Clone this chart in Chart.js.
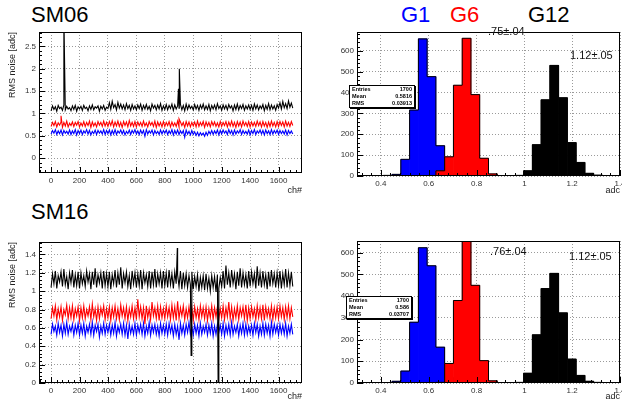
<!DOCTYPE html>
<html>
<head>
<meta charset="utf-8">
<script src="https://cdn.jsdelivr.net/npm/chart.js@4.4.0/dist/chart.umd.min.js"></script>
<style>
  html, body { margin: 0; padding: 0; background: #fff; overflow: hidden; }
  body { width: 622px; height: 407px; position: relative; font-family: "Liberation Sans", Arial, sans-serif; }
  canvas { position: absolute; }
  .lbl { position: absolute; white-space: nowrap; }
  .big { font-size: 22px; line-height: 22px; }
  .note { font-size: 11px; line-height: 11px; color: #111; }
  .stats { position: absolute; background: #fff; border: 1px solid #000; box-shadow: 1px 1px 0 #000;
           font-size: 5.5px; font-weight: bold; line-height: 7px; box-sizing: border-box; padding: 0 2px; }
  .stats div { display: flex; justify-content: space-between; }
</style>
</head>
<body>
<div class="lbl big" style="left:31px;top:4px">SM06</div>
<div class="lbl big" style="left:31px;top:201px">SM16</div>
<div class="lbl big" style="left:401px;top:4px;color:#0000ff">G1</div>
<div class="lbl big" style="left:450px;top:4px;color:#ff0000">G6</div>
<div class="lbl big" style="left:528px;top:4px;color:#000">G12</div>

<canvas id="sm06Noise" width="310" height="180" style="left:0;top:20px"></canvas>
<canvas id="sm06Hist" width="330" height="180" style="left:310px;top:20px"></canvas>
<canvas id="sm16Noise" width="310" height="177" style="left:0;top:230px"></canvas>
<canvas id="sm16Hist" width="330" height="177" style="left:310px;top:230px"></canvas>

<div class="lbl note" style="left:488px;top:26px">.75±.04</div>
<div class="lbl note" style="left:570px;top:50px">1.12±.05</div>
<div class="lbl note" style="left:490px;top:246px">.76±.04</div>
<div class="lbl note" style="left:569px;top:251px">1.12±.05</div>

<div class="stats" style="left:349px;top:85px;width:66px;height:23px">
  <div><span>Entries</span><span>1700</span></div>
  <div><span>Mean</span><span>0.5816</span></div>
  <div><span>RMS</span><span>0.03913</span></div>
</div>
<div class="stats" style="left:346px;top:296px;width:66px;height:23px">
  <div><span>Entries</span><span>1700</span></div>
  <div><span>Mean</span><span>0.586</span></div>
  <div><span>RMS</span><span>0.03707</span></div>
</div>

<script>
// RMS noise is listed for every 10th channel (0, 10, ... 1700)
const chStep = 10;

// SM06 pedestal RMS per gain
const sm06G1 = [
  0.54,0.62,0.56,0.64,0.53,0.61,0.55,0.63,0.52,0.62,0.56,0.60,0.54,0.63,0.53,0.61,0.55,0.64,0.52,0.62,
  0.55,0.63,0.53,0.61,0.56,0.64,0.54,0.62,0.52,0.60,0.55,0.63,0.53,0.62,0.56,0.61,0.54,0.64,0.53,0.62,
  0.55,0.63,0.52,0.62,0.54,0.64,0.53,0.61,0.56,0.63,0.54,0.62,0.52,0.60,0.55,0.63,0.53,0.62,0.56,0.64,
  0.54,0.61,0.53,0.63,0.55,0.62,0.49,0.64,0.54,0.61,0.56,0.63,0.52,0.62,0.55,0.60,0.53,0.63,0.54,0.62,
  0.56,0.63,0.53,0.61,0.55,0.64,0.52,0.62,0.54,0.63,0.53,0.61,0.55,0.62,0.47,0.63,0.54,0.60,0.52,0.62,
  0.53,0.59,0.51,0.58,0.50,0.57,0.52,0.56,0.49,0.58,0.51,0.60,0.54,0.62,0.53,0.61,0.55,0.63,0.52,0.62,
  0.54,0.63,0.56,0.61,0.53,0.64,0.55,0.62,0.52,0.63,0.54,0.61,0.56,0.64,0.53,0.62,0.55,0.60,0.54,0.63,
  0.52,0.62,0.55,0.64,0.53,0.61,0.56,0.63,0.54,0.62,0.52,0.63,0.55,0.61,0.53,0.64,0.54,0.62,0.56,0.63,
  0.53,0.62,0.55,0.61,0.54,0.63,0.52,0.62,0.55,0.61,0.54
];
const sm06G6 = [
  0.71,0.80,0.73,0.82,0.70,0.79,0.74,0.81,0.69,0.80,0.72,0.83,0.70,0.78,0.73,0.81,0.71,0.80,0.74,0.82,
  0.70,0.79,0.72,0.82,0.71,0.80,0.73,0.83,0.69,0.81,0.72,0.79,0.70,0.82,0.74,0.80,0.71,0.83,0.72,0.80,
  0.71,0.82,0.73,0.84,0.70,0.81,0.72,0.83,0.71,0.80,0.69,0.82,0.73,0.81,0.70,0.84,0.72,0.80,0.71,0.82,
  0.70,0.81,0.73,0.80,0.71,0.83,0.72,0.79,0.70,0.82,0.74,0.80,0.71,0.83,0.69,0.81,0.72,0.80,0.70,0.82,
  0.71,0.80,0.73,0.82,0.70,0.81,0.72,0.79,0.71,0.83,0.70,0.81,0.73,0.80,0.69,0.82,0.72,0.81,0.70,0.80,
  0.72,0.81,0.70,0.83,0.71,0.80,0.73,0.82,0.69,0.81,0.72,0.80,0.70,0.82,0.73,0.81,0.71,0.79,0.70,0.82,
  0.71,0.80,0.73,0.82,0.70,0.81,0.72,0.83,0.71,0.80,0.69,0.82,0.72,0.81,0.70,0.83,0.73,0.80,0.71,0.82,
  0.70,0.81,0.72,0.80,0.71,0.83,0.73,0.81,0.70,0.82,0.72,0.80,0.69,0.81,0.71,0.83,0.72,0.80,0.70,0.82,
  0.71,0.82,0.73,0.81,0.70,0.83,0.72,0.80,0.71,0.82,0.73
];
const sm06G12 = [
  1.06,1.17,1.09,1.15,1.05,1.18,1.11,1.14,1.07,1.19,1.08,1.16,1.10,1.13,1.06,1.17,1.09,1.18,1.05,1.15,
  1.10,1.16,1.07,1.18,1.11,1.14,1.06,1.17,1.09,1.19,1.08,1.15,1.12,1.17,1.05,1.16,1.10,1.18,1.07,1.14,
  1.11,1.24,1.09,1.27,1.13,1.20,1.08,1.25,1.12,1.21,1.10,1.19,1.08,1.22,1.11,1.18,1.07,1.20,1.10,1.17,
  1.08,1.19,1.11,1.21,1.07,1.18,1.10,1.20,1.09,1.16,1.06,1.21,1.12,1.18,1.08,1.19,1.10,1.22,1.07,1.17,
  1.09,1.20,1.08,1.18,1.11,1.21,1.07,1.19,1.10,1.17,1.12,1.20,1.08,1.18,1.06,1.21,1.09,1.19,1.11,1.16,
  1.08,1.20,1.10,1.18,1.07,1.19,1.11,1.21,1.08,1.17,1.09,1.20,1.06,1.18,1.10,1.19,1.08,1.22,1.11,1.17,
  1.07,1.19,1.10,1.18,1.08,1.20,1.12,1.17,1.06,1.19,1.09,1.21,1.08,1.18,1.11,1.20,1.07,1.17,1.10,1.19,
  1.09,1.18,1.07,1.21,1.10,1.19,1.08,1.17,1.11,1.20,1.06,1.18,1.09,1.22,1.08,1.19,1.10,1.17,1.07,1.20,
  1.12,1.24,1.10,1.27,1.13,1.22,1.11,1.28,1.14,1.23,1.12
];
// single noisy channels
const sm06G6SpikeCh = [70, 900];
const sm06G6SpikeVal = [0.95, 0.88];
const sm06G12SpikeCh = [90, 896, 902];
const sm06G12SpikeVal = [3.2, 1.55, 2.0];

// SM16 pedestal RMS per gain
const sm16G1 = [
  0.53,0.64,0.56,0.62,0.52,0.65,0.55,0.63,0.51,0.64,0.54,0.66,0.53,0.62,0.56,0.64,0.52,0.63,0.55,0.65,
  0.52,0.63,0.54,0.65,0.51,0.62,0.55,0.64,0.53,0.66,0.52,0.63,0.56,0.64,0.50,0.62,0.54,0.65,0.53,0.63,
  0.55,0.64,0.52,0.63,0.54,0.66,0.51,0.62,0.55,0.64,0.53,0.65,0.52,0.63,0.48,0.64,0.54,0.62,0.53,0.65,
  0.52,0.63,0.55,0.64,0.53,0.65,0.51,0.62,0.54,0.66,0.52,0.63,0.55,0.64,0.53,0.62,0.51,0.65,0.54,0.63,
  0.53,0.64,0.52,0.65,0.55,0.63,0.51,0.64,0.53,0.62,0.47,0.65,0.54,0.63,0.52,0.64,0.55,0.66,0.53,0.62,
  0.52,0.64,0.54,0.63,0.51,0.65,0.53,0.62,0.55,0.64,0.52,0.63,0.54,0.65,0.51,0.62,0.53,0.64,0.55,0.63,
  0.53,0.65,0.51,0.63,0.54,0.64,0.52,0.66,0.53,0.62,0.55,0.64,0.51,0.63,0.54,0.65,0.52,0.64,0.53,0.62,
  0.54,0.63,0.52,0.65,0.55,0.64,0.51,0.62,0.53,0.65,0.52,0.64,0.54,0.63,0.51,0.66,0.53,0.64,0.55,0.63,
  0.52,0.64,0.54,0.63,0.53,0.65,0.51,0.62,0.54,0.64,0.53
];
const sm16G6 = [
  0.70,0.82,0.73,0.84,0.69,0.81,0.72,0.83,0.68,0.80,0.74,0.85,0.70,0.82,0.71,0.84,0.69,0.81,0.73,0.83,
  0.68,0.82,0.71,0.84,0.70,0.80,0.73,0.83,0.69,0.86,0.72,0.81,0.68,0.83,0.70,0.82,0.74,0.84,0.69,0.81,
  0.71,0.83,0.68,0.82,0.72,0.84,0.70,0.81,0.69,0.85,0.73,0.82,0.70,0.83,0.68,0.81,0.72,0.84,0.70,0.82,
  0.69,0.91,0.72,0.83,0.70,0.82,0.64,0.84,0.71,0.81,0.69,0.88,0.73,0.82,0.70,0.84,0.68,0.83,0.71,0.81,
  0.70,0.84,0.72,0.82,0.69,0.85,0.71,0.83,0.68,0.89,0.70,0.82,0.73,0.84,0.69,0.81,0.71,0.83,0.70,0.82,
  0.68,0.83,0.71,0.81,0.69,0.84,0.72,0.82,0.70,0.83,0.68,0.81,0.71,0.84,0.69,0.82,0.72,0.83,0.70,0.81,
  0.71,0.84,0.69,0.82,0.72,0.88,0.70,0.83,0.68,0.81,0.71,0.84,0.69,0.82,0.73,0.83,0.70,0.85,0.68,0.82,
  0.70,0.83,0.72,0.81,0.69,0.84,0.71,0.82,0.70,0.85,0.68,0.83,0.72,0.81,0.70,0.84,0.69,0.82,0.71,0.83,
  0.70,0.84,0.72,0.82,0.69,0.83,0.71,0.84,0.70,0.82,0.72
];
const sm16G12 = [
  1.04,1.19,1.08,1.22,1.03,1.17,1.10,1.21,1.05,1.24,1.07,1.16,1.02,1.20,1.09,1.23,1.04,1.18,1.06,1.21,
  1.03,1.20,1.08,1.17,1.05,1.22,1.10,1.19,1.02,1.21,1.07,1.25,1.04,1.18,1.09,1.20,1.03,1.22,1.06,1.19,
  1.05,1.21,1.02,1.18,1.08,1.23,1.04,1.20,1.07,1.26,1.03,1.19,1.09,1.21,1.05,1.17,1.02,1.22,1.08,1.20,
  1.04,1.19,1.06,1.23,1.02,1.20,1.09,1.18,1.05,1.22,1.03,1.21,1.07,1.24,1.04,1.19,1.08,1.20,1.03,1.22,
  1.06,1.20,1.04,1.23,1.07,1.19,1.03,1.21,1.08,1.18,1.05,1.22,1.02,1.20,1.06,1.19,1.04,1.17,1.07,1.21,
  1.02,1.16,1.05,1.18,1.00,1.15,1.04,1.17,1.01,1.19,1.03,1.14,1.00,1.17,1.04,1.16,0.99,1.18,1.03,1.15,
  1.05,1.22,1.03,1.28,1.07,1.20,1.04,1.23,1.08,1.19,1.02,1.21,1.06,1.25,1.04,1.20,1.07,1.18,1.03,1.22,
  1.05,1.21,1.08,1.19,1.03,1.27,1.06,1.20,1.04,1.22,1.07,1.18,1.02,1.21,1.05,1.23,1.08,1.19,1.04,1.20,
  1.06,1.22,1.03,1.19,1.07,1.24,1.04,1.20,1.06,1.21,1.05
];
const sm16G12SpikeCh = [888, 985, 1175];
const sm16G12SpikeVal = [1.47, 0.30, 0.0];

// RMS distributions: 30 bins between 0.3 and 1.4 adc
const histLo = 0.3, histHi = 1.4, histBins = 30;
const sm06HistG1  = [0,0,0,3,8,80,316,657,476,145, 12,0,0,0,0,0,0,0,0,0, 0,0,0,0,0,0,0,0,0,0];
const sm06HistG6  = [0,0,0,0,0,0,0,0,0,25, 92,435,660,390,85,10,2,0,0,0, 0,0,0,0,0,0,0,0,0,0];
const sm06HistG12 = [0,0,0,0,0,0,0,0,0,0, 0,0,0,0,0,0,0,0,3,25, 150,365,530,375,160,65,13,4,1,0];
const sm16HistG1  = [0,0,0,2,8,55,280,623,540,165, 25,2,0,0,0,0,0,0,0,0, 0,0,0,0,0,0,0,0,0,0];
const sm16HistG6  = [0,0,0,0,0,0,0,0,0,3, 90,380,664,450,103,10,0,0,0,0, 0,0,0,0,0,0,0,0,0,0];
const sm16HistG12 = [0,0,0,0,0,0,0,0,0,0, 0,0,0,0,0,0,0,0,3,45, 222,435,505,323,110,35,8,3,0,0];

// axis ticks
const chTicks = [0, 200, 400, 600, 800, 1000, 1200, 1400, 1600];
const sm06NoiseTicks = [0, 0.5, 1, 1.5, 2, 2.5];
const sm16NoiseTicks = [0, 0.2, 0.4, 0.6, 0.8, 1, 1.2, 1.4];
const adcTicks = [0.4, 0.6, 0.8, 1, 1.2, 1.4];
const countTicks = [0, 100, 200, 300, 400, 500, 600];

Chart.defaults.font.family = "'Liberation Sans', Arial, sans-serif";
Chart.defaults.color = '#333';

// ROOT-like frame with ticks pointing inwards
const rootFrame = {
  id: 'rootFrame',
  afterDatasetsDraw(chart) {
    const { ctx, chartArea: a, scales } = chart;
    ctx.save();
    ctx.strokeStyle = '#000';
    ctx.lineWidth = 1;
    ctx.beginPath();
    for (const s of [scales.x, scales.y]) {
      const t = s.ticks;
      const minor = (t[1].value - t[0].value) / 5;
      for (let i = -10; i <= t.length * 5 + 10; i++) {
        const v = t[0].value + i * minor;
        if (v < s.min - 1e-9 || v > s.max + 1e-9) continue;
        const len = i % 5 === 0 ? 6 : 3;
        const p = Math.round(s.getPixelForValue(v)) + 0.5;
        if (s.axis === 'x') { ctx.moveTo(p, a.bottom); ctx.lineTo(p, a.bottom - len); }
        else { ctx.moveTo(a.left, p); ctx.lineTo(a.left + len, p); }
      }
    }
    ctx.stroke();
    ctx.strokeRect(Math.round(a.left) + 0.5, Math.round(a.top) + 0.5,
                   Math.round(a.width) - 1, Math.round(a.height) - 1);
    ctx.restore();
  }
};

const fmt = v => String(Math.round(v * 100) / 100);
const tickFont = { size: 8 };

function axis(min, max, tickList, extra) {
  return Object.assign({
    type: 'linear',
    min: min,
    max: max,
    offset: false,
    afterBuildTicks: s => { s.ticks = tickList.map(v => ({ value: v })); },
    grid: { color: '#9a9a9a', lineWidth: 1, drawTicks: false, offset: false },
    border: { display: false, dash: [1, 2] }
  }, extra);
}

function trace(vals, spikeCh = [], spikeVal = []) {
  const pts = vals.map((v, i) => ({ x: i * chStep, y: v }));
  spikeCh.forEach((c, i) => pts.push({ x: c, y: spikeVal[i] }));
  return pts.sort((p, q) => p.x - q.x);
}

function noisePanel(id, g1, g6, g12, yMin, yMax, yTicks, pad, xH, titlePad) {
  new Chart(document.getElementById(id), {
    type: 'line',
    data: {
      datasets: [
        { data: g12, borderColor: '#000', order: 0 },
        { data: g6, borderColor: '#ff0000', order: 1 },
        { data: g1, borderColor: '#0000ff', order: 2 }
      ]
    },
    options: {
      responsive: false,
      animation: false,
      layout: { padding: pad },
      elements: { line: { borderWidth: 1.1, tension: 0 }, point: { radius: 0 } },
      plugins: { legend: { display: false }, tooltip: { enabled: false } },
      scales: {
        x: axis(-85, 1765, chTicks, {
          afterFit: s => { s.height = xH; },
          ticks: { font: tickFont, color: '#333', callback: fmt, autoSkip: false, maxRotation: 0, padding: 3 },
          title: { display: true, text: 'ch#', align: 'end', font: { size: 9 }, color: '#222',
                   padding: { top: 0, bottom: titlePad } }
        }),
        y: axis(yMin, yMax, yTicks, {
          afterFit: s => { s.width = 39; },
          ticks: { font: tickFont, color: '#333', callback: fmt, autoSkip: false, padding: 3 },
          title: { display: true, text: 'RMS noise [adc]', align: 'end', font: { size: 9 }, color: '#222',
                   padding: { top: 7, bottom: 0 } }
        })
      }
    },
    plugins: [rootFrame]
  });
}

const binW = (histHi - histLo) / histBins;
// filled bins, one bar per bin centre
function histBars(counts) {
  return counts.map((n, i) => ({ x: histLo + (i + 0.5) * binW, y: n }));
}
// outer contour of the histogram, one point per lower bin edge
function histContour(counts) {
  const pts = counts.map((n, i) => ({ x: histLo + i * binW, y: n }));
  pts.push({ x: histHi, y: 0 });
  return pts;
}

function histPanel(id, g1, g6, g12, yMax, pad, titlePad) {
  const fill = (counts, color, order) => ({
    type: 'bar', data: histBars(counts), backgroundColor: color, borderWidth: 0,
    barPercentage: 1, categoryPercentage: 1, grouped: false, order: order
  });
  const edge = (counts, order) => ({
    type: 'line', data: histContour(counts), borderColor: '#000', borderWidth: 1,
    stepped: 'before', pointRadius: 0, fill: false, order: order
  });
  new Chart(document.getElementById(id), {
    type: 'bar',
    data: {
      datasets: [
        fill(g1, '#0000ff', 6), edge(g1, 5),
        fill(g6, '#ff0000', 4), edge(g6, 3),
        fill(g12, '#000000', 2), edge(g12, 1)
      ]
    },
    options: {
      responsive: false,
      animation: false,
      layout: { padding: pad },
      plugins: { legend: { display: false }, tooltip: { enabled: false } },
      scales: {
        x: axis(histLo, histHi, adcTicks, {
          afterFit: s => { s.height = 24; },
          ticks: { font: tickFont, color: '#333', callback: fmt, autoSkip: false, maxRotation: 0, padding: 3 },
          title: { display: true, text: 'adc', align: 'end', font: { size: 9 }, color: '#222',
                   padding: { top: 0, bottom: titlePad } }
        }),
        y: axis(0, yMax, countTicks, {
          afterFit: s => { s.width = 47; },
          ticks: { font: tickFont, color: '#333', callback: fmt, autoSkip: false, padding: 3 }
        })
      }
    },
    plugins: [rootFrame]
  });
}

noisePanel('sm06Noise',
  trace(sm06G1), trace(sm06G6, sm06G6SpikeCh, sm06G6SpikeVal), trace(sm06G12, sm06G12SpikeCh, sm06G12SpikeVal),
  -0.33, 2.82, sm06NoiseTicks, { top: 12, right: 8, left: 0, bottom: 0 }, 27, 4);
noisePanel('sm16Noise',
  trace(sm16G1), trace(sm16G6), trace(sm16G12, sm16G12SpikeCh, sm16G12SpikeVal),
  0, 1.535, sm16NoiseTicks, { top: 12, right: 8, left: 0, bottom: 0 }, 24, 5);

histPanel('sm06Hist', sm06HistG1, sm06HistG6, sm06HistG12, 690, { top: 12, right: 20, left: 0, bottom: 0 }, 4);
histPanel('sm16Hist', sm16HistG1, sm16HistG6, sm16HistG12, 654, { top: 11, right: 20, left: 0, bottom: 0 }, 5);
</script>
</body>
</html>
